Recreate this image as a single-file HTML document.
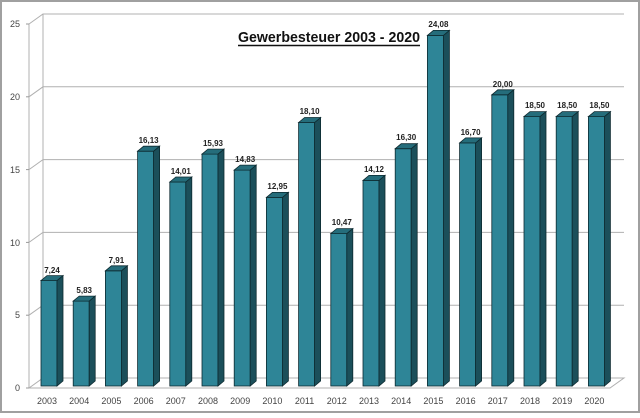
<!DOCTYPE html>
<html><head><meta charset="utf-8"><style>html,body{margin:0;padding:0;background:#fff}</style></head><body>
<svg width="640" height="413" xmlns="http://www.w3.org/2000/svg" font-family="Liberation Sans, DejaVu Sans, sans-serif">
<defs>
<g id="dummy"></g>
</defs>
<rect x="1" y="1" width="638" height="411" fill="#fff" stroke="#a0a0a0" stroke-width="2"/>
<g stroke="#b0b0b0" stroke-width="1" fill="none">
<path d="M29,24 L43,14 L624,14"/>
<path d="M29,96.8 L43,86.8 L624,86.8"/>
<path d="M29,169.6 L43,159.6 L624,159.6"/>
<path d="M29,242.4 L43,232.4 L624,232.4"/>
<path d="M29,315.2 L43,305.2 L624,305.2"/>
<path d="M29,388 L43,378 L624,378 L610,388 L29,388"/>
<path d="M29,24 L29,388"/>
<path d="M43,14 L43,378"/>
</g>
<g stroke="#999" stroke-width="1">
<line x1="26" y1="24" x2="29" y2="24"/><line x1="26" y1="96.8" x2="29" y2="96.8"/><line x1="26" y1="169.6" x2="29" y2="169.6"/><line x1="26" y1="242.4" x2="29" y2="242.4"/><line x1="26" y1="315.2" x2="29" y2="315.2"/><line x1="26" y1="388" x2="29" y2="388"/>
</g>
<g font-size="9" fill="#444" text-anchor="end">
<text x="20" y="27">25</text><text x="20" y="100">20</text><text x="20" y="173">15</text><text x="20" y="246">10</text><text x="20" y="318">5</text><text x="20" y="391">0</text>
</g>
<g stroke="#0d2a30" stroke-width="0.8">
<g transform="translate(41,280.6)"><rect width="16" height="105.4" fill="#2e8597"/><polygon points="16,0 22,-5 22,100.4 16,105.4" fill="#1b4f5a"/><polygon points="0,0 6,-5 22,-5 16,0" fill="#256d7b"/></g>
<g transform="translate(73.2,301.1)"><rect width="16" height="84.9" fill="#2e8597"/><polygon points="16,0 22,-5 22,79.9 16,84.9" fill="#1b4f5a"/><polygon points="0,0 6,-5 22,-5 16,0" fill="#256d7b"/></g>
<g transform="translate(105.4,270.8)"><rect width="16" height="115.2" fill="#2e8597"/><polygon points="16,0 22,-5 22,110.2 16,115.2" fill="#1b4f5a"/><polygon points="0,0 6,-5 22,-5 16,0" fill="#256d7b"/></g>
<g transform="translate(137.6,151.2)"><rect width="16" height="234.8" fill="#2e8597"/><polygon points="16,0 22,-5 22,229.8 16,234.8" fill="#1b4f5a"/><polygon points="0,0 6,-5 22,-5 16,0" fill="#256d7b"/></g>
<g transform="translate(169.8,182)"><rect width="16" height="204" fill="#2e8597"/><polygon points="16,0 22,-5 22,199 16,204" fill="#1b4f5a"/><polygon points="0,0 6,-5 22,-5 16,0" fill="#256d7b"/></g>
<g transform="translate(202,154.1)"><rect width="16" height="231.9" fill="#2e8597"/><polygon points="16,0 22,-5 22,226.9 16,231.9" fill="#1b4f5a"/><polygon points="0,0 6,-5 22,-5 16,0" fill="#256d7b"/></g>
<g transform="translate(234.2,170.1)"><rect width="16" height="215.9" fill="#2e8597"/><polygon points="16,0 22,-5 22,210.9 16,215.9" fill="#1b4f5a"/><polygon points="0,0 6,-5 22,-5 16,0" fill="#256d7b"/></g>
<g transform="translate(266.4,197.4)"><rect width="16" height="188.6" fill="#2e8597"/><polygon points="16,0 22,-5 22,183.6 16,188.6" fill="#1b4f5a"/><polygon points="0,0 6,-5 22,-5 16,0" fill="#256d7b"/></g>
<g transform="translate(298.6,122.5)"><rect width="16" height="263.5" fill="#2e8597"/><polygon points="16,0 22,-5 22,258.5 16,263.5" fill="#1b4f5a"/><polygon points="0,0 6,-5 22,-5 16,0" fill="#256d7b"/></g>
<g transform="translate(330.8,233.6)"><rect width="16" height="152.4" fill="#2e8597"/><polygon points="16,0 22,-5 22,147.4 16,152.4" fill="#1b4f5a"/><polygon points="0,0 6,-5 22,-5 16,0" fill="#256d7b"/></g>
<g transform="translate(363,180.4)"><rect width="16" height="205.6" fill="#2e8597"/><polygon points="16,0 22,-5 22,200.6 16,205.6" fill="#1b4f5a"/><polygon points="0,0 6,-5 22,-5 16,0" fill="#256d7b"/></g>
<g transform="translate(395.2,148.7)"><rect width="16" height="237.3" fill="#2e8597"/><polygon points="16,0 22,-5 22,232.3 16,237.3" fill="#1b4f5a"/><polygon points="0,0 6,-5 22,-5 16,0" fill="#256d7b"/></g>
<g transform="translate(427.4,35.4)"><rect width="16" height="350.6" fill="#2e8597"/><polygon points="16,0 22,-5 22,345.6 16,350.6" fill="#1b4f5a"/><polygon points="0,0 6,-5 22,-5 16,0" fill="#256d7b"/></g>
<g transform="translate(459.6,142.9)"><rect width="16" height="243.1" fill="#2e8597"/><polygon points="16,0 22,-5 22,238.1 16,243.1" fill="#1b4f5a"/><polygon points="0,0 6,-5 22,-5 16,0" fill="#256d7b"/></g>
<g transform="translate(491.8,94.8)"><rect width="16" height="291.2" fill="#2e8597"/><polygon points="16,0 22,-5 22,286.2 16,291.2" fill="#1b4f5a"/><polygon points="0,0 6,-5 22,-5 16,0" fill="#256d7b"/></g>
<g transform="translate(524,116.6)"><rect width="16" height="269.4" fill="#2e8597"/><polygon points="16,0 22,-5 22,264.4 16,269.4" fill="#1b4f5a"/><polygon points="0,0 6,-5 22,-5 16,0" fill="#256d7b"/></g>
<g transform="translate(556.2,116.6)"><rect width="16" height="269.4" fill="#2e8597"/><polygon points="16,0 22,-5 22,264.4 16,269.4" fill="#1b4f5a"/><polygon points="0,0 6,-5 22,-5 16,0" fill="#256d7b"/></g>
<g transform="translate(588.4,116.6)"><rect width="16" height="269.4" fill="#2e8597"/><polygon points="16,0 22,-5 22,264.4 16,269.4" fill="#1b4f5a"/><polygon points="0,0 6,-5 22,-5 16,0" fill="#256d7b"/></g>
</g>
<g font-size="8" font-weight="bold" fill="#222" text-anchor="middle">
<text x="52" y="273">7,24</text>
<text x="84.2" y="293">5,83</text>
<text x="116.4" y="263">7,91</text>
<text x="148.6" y="143">16,13</text>
<text x="180.8" y="174">14,01</text>
<text x="213" y="146">15,93</text>
<text x="245.2" y="162">14,83</text>
<text x="277.4" y="189">12,95</text>
<text x="309.6" y="114">18,10</text>
<text x="341.8" y="225">10,47</text>
<text x="374" y="172">14,12</text>
<text x="406.2" y="140">16,30</text>
<text x="438.4" y="27">24,08</text>
<text x="470.6" y="135">16,70</text>
<text x="502.8" y="87">20,00</text>
<text x="535" y="108">18,50</text>
<text x="567.2" y="108">18,50</text>
<text x="599.4" y="108">18,50</text>
</g>
<g font-size="9" fill="#444" text-anchor="middle">
<text x="47" y="404">2003</text><text x="79.2" y="404">2004</text><text x="111.4" y="404">2005</text><text x="143.6" y="404">2006</text><text x="175.8" y="404">2007</text><text x="208" y="404">2008</text><text x="240.2" y="404">2009</text><text x="272.4" y="404">2010</text><text x="304.6" y="404">2011</text><text x="336.8" y="404">2012</text><text x="369" y="404">2013</text><text x="401.2" y="404">2014</text><text x="433.4" y="404">2015</text><text x="465.6" y="404">2016</text><text x="497.8" y="404">2017</text><text x="530" y="404">2018</text><text x="562.2" y="404">2019</text><text x="594.4" y="404">2020</text>
</g>
<text x="238" y="42" font-size="15" font-weight="bold" fill="#111" textLength="182" lengthAdjust="spacingAndGlyphs">Gewerbesteuer 2003 - 2020</text>
<line x1="238" y1="45.5" x2="420" y2="45.5" stroke="#111" stroke-width="1.5"/>
</svg>
</body></html>
